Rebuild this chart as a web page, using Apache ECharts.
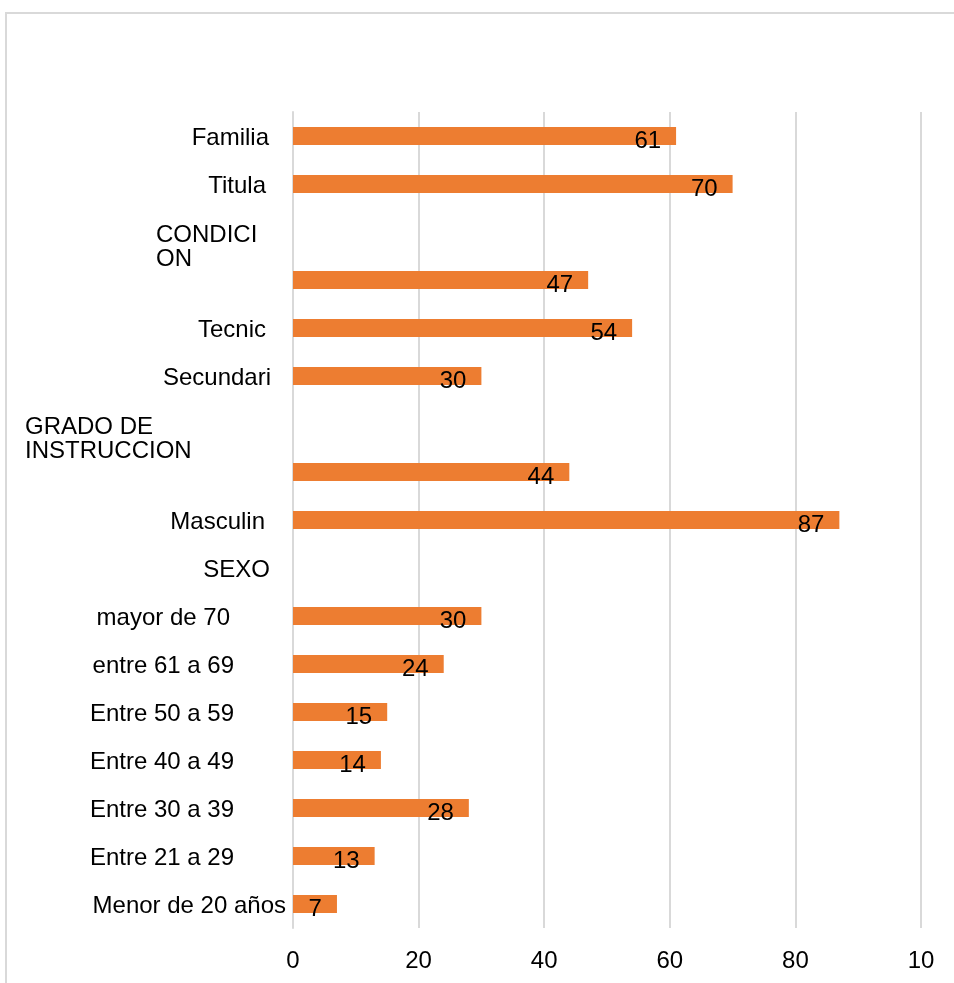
<!DOCTYPE html>
<html>
<head>
<meta charset="utf-8">
<script src="https://cdn.jsdelivr.net/npm/echarts@6/dist/echarts.min.js"></script>
<style>
html,body{margin:0;padding:0;background:#fff;overflow:hidden;}
#wrap{position:relative;width:954px;height:983px;}
#frame{position:absolute;left:5px;top:12px;width:1000px;height:1000px;border-left:2px solid #d9d9d9;border-top:2px solid #d9d9d9;}
#chart{position:absolute;left:0;top:0;width:954px;height:983px;}
</style>
</head>
<body>
<div id="wrap"><div id="frame"></div><div id="chart"></div></div>
<script>
// Categories listed bottom to top
const categories = ['Menor de 20 años','Entre 21 a 29','Entre 30 a 39','Entre 40 a 49','Entre 50 a 59','entre 61 a 69','mayor de 70','SEXO','Masculin','','GRADO DE\nINSTRUCCION','Secundari','Tecnic',' ','CONDICI\nON','Titula','Familia'];
const values = [7,13,28,14,15,24,30,null,87,44,null,30,54,47,null,70,61];
const xTicks = [0,20,40,60,80,100];
const xTickLabels = ['0','20','40','60','80','10'];

// layout: gap between label right edge and the axis (px)
const labelGap = [7,59,59,59,59,59,63,23,28,0,0,22,27,0,0,27,24];
const groupLabelWidth = {10:268, 14:137};

const FONT = "Liberation Sans";
const FS = 24;
const rich = {};
categories.forEach((c,i)=>{
  rich['p'+i] = {padding:[4,labelGap[i],0,0], fontSize:FS, fontFamily:FONT, color:'#000'};
});
Object.keys(groupLabelWidth).forEach(k=>{
  rich['g'+k] = {width:groupLabelWidth[k], align:'left', fontSize:FS, lineHeight:24, height:24, fontFamily:FONT, color:'#000'};
  rich['s'+k] = {width:groupLabelWidth[k], fontSize:FS, lineHeight:30, height:30, fontFamily:FONT, color:'#000'};
});

const chart = echarts.init(document.getElementById('chart'), null, {renderer:'canvas'});
chart.setOption({
  animation:false,
  grid:{left:293, right:33, top:112, bottom:55, containLabel:false},
  xAxis:{
    type:'value', min:0, max:100, interval:20,
    axisLine:{show:false}, axisTick:{show:false},
    splitLine:{lineStyle:{color:'#d9d9d9', width:2}},
    axisLabel:{margin:21, fontSize:FS, fontFamily:FONT, color:'#000',
      formatter:(v)=>xTickLabels[xTicks.indexOf(v)]}
  },
  yAxis:{
    type:'category', data:categories,
    axisLine:{show:true, lineStyle:{color:'#d9d9d9', width:2}},
    axisTick:{show:false},
    axisLabel:{margin:0, align:'right', interval:0,
      formatter:(v,i)=>{
        if(v.trim()==='') return '';
        if(groupLabelWidth[i]){
          const parts=v.split('\n');
          return '{s'+i+'| }\n{g'+i+'|'+parts[0]+'}\n{g'+i+'|'+parts[1]+'}';
        }
        return '{p'+i+'|'+v+'}';
      },
      rich:rich}
  },
  series:[{
    type:'bar', data:values, barWidth:18,
    itemStyle:{color:'#ED7D31'},
    label:{show:true, position:'insideRight', distance:15, offset:[0,5],
      fontSize:FS, fontFamily:FONT, color:'#000'}
  }]
});
</script>
</body>
</html>
